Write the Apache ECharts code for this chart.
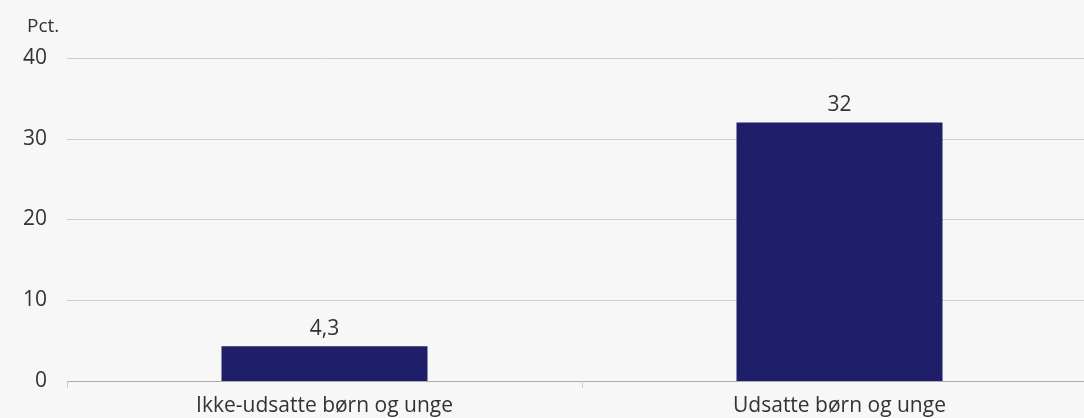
<!DOCTYPE html>
<html>
<head>
<meta charset="utf-8">
<script src="https://cdn.jsdelivr.net/npm/echarts@6/dist/echarts.min.js"></script>
<style>
html,body{margin:0;padding:0;background:#f7f7f7;overflow:hidden;width:1084px;height:418px;}
#c{width:1097px;height:418px;}
</style>
</head>
<body>
<div id="c"></div>
<script>
const categories = ['Ikke-udsatte børn og unge', 'Udsatte børn og unge'];
const values = [4.3, 32];
const yTicks = [0, 10, 20, 30, 40];
const unitLabel = 'Pct.';

const chart = echarts.init(document.getElementById('c'));
const font = '"Open Sans", sans-serif';
chart.setOption({
  backgroundColor: '#f7f7f7',
  animation: false,
  title: {
    text: unitLabel, left: 22, top: 12,
    textStyle: {fontFamily: font, fontSize: 19, fontWeight: 'normal', color: '#333'}
  },
  grid: {left: 67, right: 0, top: 58, bottom: 37, containLabel: false, outerBoundsMode: 'none'},
  xAxis: {
    type: 'category',
    data: categories,
    axisLine: {lineStyle: {color: '#aaa', width: 1}},
    axisTick: {show: true, length: 7, lineStyle: {color: '#ccc'}},
    axisLabel: {fontFamily: font, fontSize: 21, color: '#333', margin: 15}
  },
  yAxis: {
    type: 'value',
    min: yTicks[0], max: yTicks[yTicks.length - 1], interval: 10,
    axisLine: {show: false},
    axisTick: {show: false},
    splitLine: {lineStyle: {color: '#cfcfcf', width: 1}},
    axisLabel: {fontFamily: font, fontSize: 21, color: '#333', margin: 20}
  },
  series: [{
    type: 'bar',
    data: values,
    barWidth: '40%',
    itemStyle: {color: '#1f1f69'},
    label: {
      show: true, position: 'top', distance: 7,
      fontFamily: font, fontSize: 21, color: '#333',
      formatter: p => String(p.value).replace('.', ',')
    }
  }]
});
</script>
</body>
</html>
